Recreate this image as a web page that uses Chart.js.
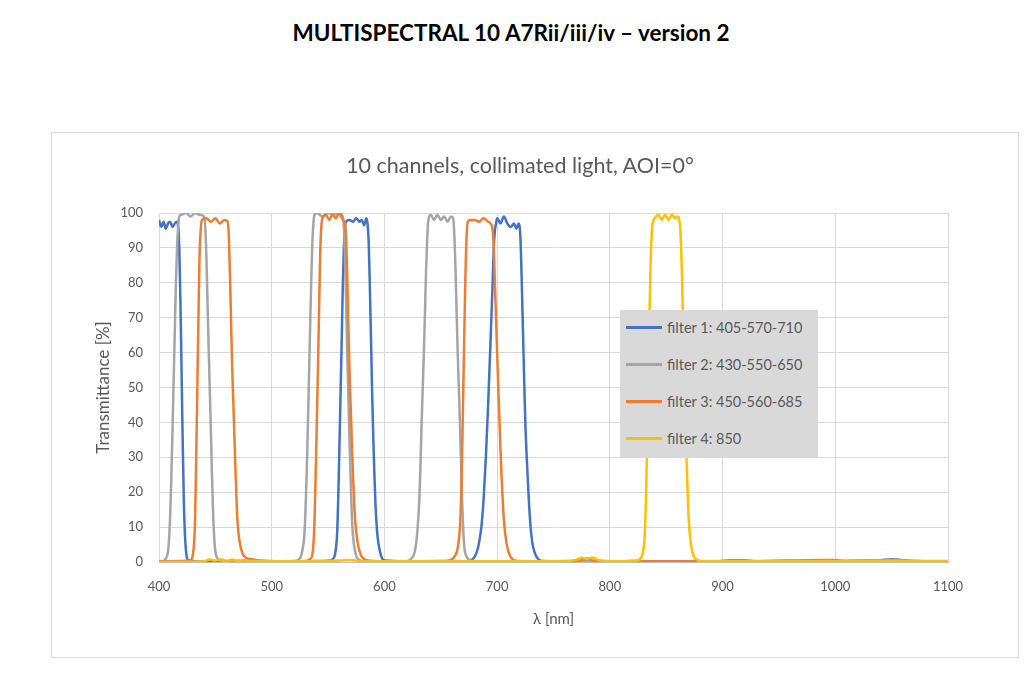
<!DOCTYPE html>
<html>
<head>
<meta charset="utf-8">
<script src="https://cdn.jsdelivr.net/npm/chart.js@4.4.0/dist/chart.umd.min.js"></script>
<style>
body { margin: 0; background: #fff; font-family: Lato, "Open Sans", sans-serif; }
.page-title { position: absolute; left: 0; width: 1022px; top: 19px; text-align: center; font-size: 22.5px; font-weight: 700; color: #000; }
.chart-box { position: absolute; left: 52px; top: 133px; width: 966px; height: 524px; outline: 1px solid #d9d9d9; }
.chart-box canvas { position: absolute; left: 0; top: 0; }
.sub-title { position: absolute; left: 0; width: 936px; top: 19px; text-align: center; font-size: 21.5px; color: #595959; }
.legend { position: absolute; left: 568px; top: 177px; width: 198px; height: 148px; background: #d9d9d9; }
.legend-item { position: absolute; left: 6px; height: 20px; display: flex; align-items: center; font-size: 14.5px; color: #595959; }
.legend-line { width: 36px; height: 3px; margin-right: 5px; }
</style>
</head>
<body>
<div class="page-title">MULTISPECTRAL 10 A7Rii/iii/iv – version 2</div>
<div class="chart-box">
  <canvas id="spectra" width="966" height="524"></canvas>
  <div class="sub-title">10 channels, collimated light, AOI=0°</div>
  <div class="legend" id="legend"></div>
</div>

<script>
// wavelength ticks
const xTicks = [400, 500, 600, 700, 800, 900, 1000, 1100];
const yTicks = [0, 10, 20, 30, 40, 50, 60, 70, 80, 90, 100];

const seriesNames = ['filter 1: 405-570-710', 'filter 2: 430-550-650', 'filter 3: 450-560-685', 'filter 4: 850'];
const seriesColors = ['#4472c4', '#a5a5a5', '#ed7d31', '#ffc000'];

// filter 1
const f1Nm = [
  400,402,404,406,408,410,412,414,416,417,
  418,419,420,421,422,423,424,425,427,440,
  470,500,530,545,552,554,556,558,559,560,
  561,562,563,564,565,566,569,572,575,578,
  580,582,584,585,586,587,588,589,590,591,
  592,593,594,596,598,600,620,650,670,676,
  680,683,686,688,690,692,694,696,697,698,
  699,700,703,706,709,712,715,717,719,720,
  721,722,723,724,725,727,729,731,733,736,
  740,780,850,1000,1040,1050,1060,1070,1100];
const f1T = [
  98,96,97.5,95.5,97,97.5,96,97,97.5,96,
  90,75,55,35,18,8,3,1,0.3,0.2,
  0.3,0.2,0.2,0.3,0.4,0.8,2,8,18,32,
  47,62,78,90,96,97.5,98,97.5,98.5,97.5,
  98,96.5,98.5,97,92,80,65,50,37,26,
  17,11,7,3,1,0.4,0.2,0.3,0.2,0.4,
  1.5,4,10,18,30,45,62,80,90,95,
  97,98.5,97,99,97,96,97,95.5,97,96,
  90,78,65,52,40,25,13,6,3,1,
  0.3,0.2,0.2,0.3,0.5,0.8,0.5,0.3,0.2];

// filter 2
const f2Nm = [
  400,404,406,408,409,410,411,412,413,414,
  415,416,417,418,420,424,428,432,436,440,
  441,442,443,444,445,446,447,448,449,450,
  452,455,480,500,520,525,527,529,530,531,
  532,533,534,535,536,537,538,540,545,550,
  555,560,563,564,565,566,567,568,569,570,
  571,572,574,576,580,600,620,624,627,629,
  631,632,633,634,635,636,637,638,639,641,
  644,647,650,653,656,659,661,662,663,664,
  665,666,667,668,669,670,671,673,676,680,
  720,800,900,1000,1045,1055,1065,1100];
const f2T = [
  0.2,0.3,1,3,7,14,25,38,52,66,
  80,90,96,99,99.5,100,99,100,99.5,99,
  96,88,75,62,50,38,25,14,7,3,
  1,0.3,0.2,0.2,0.3,1,3,8,15,25,
  38,52,66,80,91,97,99.5,100,99,100,
  99.5,100,99,96,88,75,60,48,35,24,
  14,8,3,1,0.3,0.2,0.3,1,3,8,
  18,28,40,50,60,72,84,93,98,99.5,
  98,99.5,98,99,97.5,99,98.5,94,85,72,
  60,50,40,28,17,9,4,1.5,0.5,0.3,
  0.2,0.2,0.2,0.2,0.6,0.6,0.3,0.2];

// filter 3
const f3Nm = [
  400,420,428,430,431,432,433,434,435,436,
  437,438,442,446,450,454,458,461,462,463,
  464,465,466,467,468,469,470,472,474,476,
  478,482,490,510,530,534,536,537,538,539,
  540,541,542,543,544,545,548,551,554,557,
  560,563,565,566,567,568,569,570,571,572,
  573,574,576,578,580,584,600,640,655,660,
  663,665,667,668,669,670,671,672,673,674,
  676,680,684,688,692,694,696,697,698,699,
  700,701,702,703,704,706,708,710,713,718,
  760,775,780,785,800,895,905,920,930,985,
  1000,1010,1100];
const f3T = [
  0.2,0.3,0.5,2,5,12,30,50,70,88,
  95,98,98.5,97.5,98.5,97,98,97.5,93,82,
  68,55,45,35,25,16,10,5,2.5,1.5,
  1,0.8,0.4,0.2,0.3,0.8,2,5,12,25,
  40,55,72,88,96,98.5,99.5,98,99.5,98.5,
  100,98,97,93,82,68,55,45,35,26,
  18,12,6,3,1.5,0.5,0.2,0.2,0.3,0.8,
  2,4,10,18,32,50,68,84,94,97.5,
  98,98,97.5,98.5,97.5,97,95,90,80,70,
  60,50,41,32,24,12,6,3,1,0.3,
  0.2,0.5,1,0.4,0.2,0.2,0.5,0.5,0.2,0.6,
  0.6,0.2,0.2];

// filter 4
const f4Nm = [
  400,440,445,450,455,460,465,470,475,480,
  490,500,540,560,570,580,600,700,760,770,
  775,780,785,790,810,820,825,828,830,831,
  832,833,834,835,836,837,838,840,843,846,
  849,852,855,858,860,862,863,864,865,866,
  867,868,869,870,872,874,877,880,900,950,
  1100];
const f4T = [
  0,0.2,0.7,0.4,0.8,0.3,0.7,0.3,0.6,0.3,
  0.3,0.2,0.2,0.4,0.6,0.2,0.2,0.2,0.3,0.6,
  1.2,0.9,1.3,0.5,0.2,0.4,0.5,1.5,4,8,
  18,32,50,68,84,93,97,98.5,99.5,98,
  99.5,98,99.5,98.5,99,97,92,82,68,55,
  42,30,20,12,5,2,0.7,0.3,0.2,0.2,
  0.3];

const allNm = [f1Nm, f2Nm, f3Nm, f4Nm];
const allT = [f1T, f2T, f3T, f4T];

const datasets = allNm.map((nm, i) => ({
  label: seriesNames[i],
  data: nm.map((x, k) => ({ x: x, y: allT[i][k] })),
  borderColor: seriesColors[i],
  backgroundColor: seriesColors[i],
  borderWidth: 2.5,
  pointRadius: 0,
  cubicInterpolationMode: 'monotone',
  order: 3 - i  // last series on top, like excel
}));

const tickFont = { family: 'Lato', size: 13 };

new Chart(document.getElementById('spectra'), {
  type: 'line',
  data: { datasets: datasets },
  options: {
    responsive: false,
    animation: false,
    layout: { padding: { left: 37, right: 70, top: 80, bottom: 25 } },
    plugins: { legend: { display: false }, tooltip: { enabled: false } },
    scales: {
      x: {
        type: 'linear', min: xTicks[0], max: xTicks[xTicks.length - 1],
        afterBuildTicks: s => { s.ticks = xTicks.map(v => ({ value: v })); },
        afterFit: s => { s.height = 70; },
        ticks: { color: '#595959', font: tickFont, padding: 17, maxRotation: 0, callback: v => String(v) },
        grid: { color: '#d9d9d9', drawTicks: false },
        border: { display: true, color: '#bfbfbf' },
        title: { display: true, text: 'λ [nm]', color: '#595959', font: { family: 'Lato', size: 15 } }
      },
      y: {
        min: 0, max: 100,
        afterBuildTicks: s => { s.ticks = yTicks.map(v => ({ value: v })); },
        afterFit: s => { s.width = 70; },
        ticks: { color: '#595959', font: tickFont, padding: 16, callback: v => String(v) },
        grid: { color: '#d9d9d9', drawTicks: false },
        border: { display: false },
        title: { display: true, text: 'Transmittance [%]', color: '#595959', font: { family: 'Lato', size: 17 } }
      }
    }
  }
});

// legend box inside the plot area
const legend = document.getElementById('legend');
legend.innerHTML = seriesNames.map((n, i) =>
  `<div class="legend-item" style="top:${7 + i * 37}px"><span class="legend-line" style="background:${seriesColors[i]}"></span>${n}</div>`
).join('');
</script>
</body>
</html>
